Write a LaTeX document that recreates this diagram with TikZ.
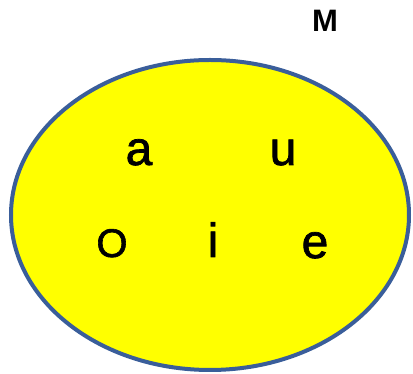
\documentclass[tikz,border=0pt]{standalone}
\usepackage{fontspec}
\setmainfont{Liberation Sans}
\newfontfamily\heavysans{Liberation Sans}[FakeBold=1.5]
\usetikzlibrary{shapes.geometric}
\definecolor{rim}{HTML}{3A5E9A}
\definecolor{fillyel}{HTML}{FFFF00}
\begin{document}
\begin{tikzpicture}[x=1pt,y=1pt,
  letter/.style={anchor=base,inner sep=0pt,font=\heavysans\fontsize{48}{48}\selectfont},
  heading/.style={anchor=base,inner sep=0pt,font=\bfseries\fontsize{31}{31}\selectfont},
  setshape/.style={ellipse,draw=rim,line width=4pt,fill=fillyel,inner sep=0pt,outer sep=0pt,
    minimum width=398pt,minimum height=310pt}]
\useasboundingbox (0,0) rectangle (413,374);
\node[setshape] (set) at (210,159) {};
\node[heading] (M) at (325,342) {M};
\node[letter] (a) at (139,209) {a};
\node[letter] (u) at (283,209) {u};
\node[letter,font=\heavysans\fontsize{40}{40}\selectfont] (O) at (112,117) {O};
\node[letter] (i) at (213,117) {i};
\node[letter] (e) at (315,116) {e};
\end{tikzpicture}
\end{document}
